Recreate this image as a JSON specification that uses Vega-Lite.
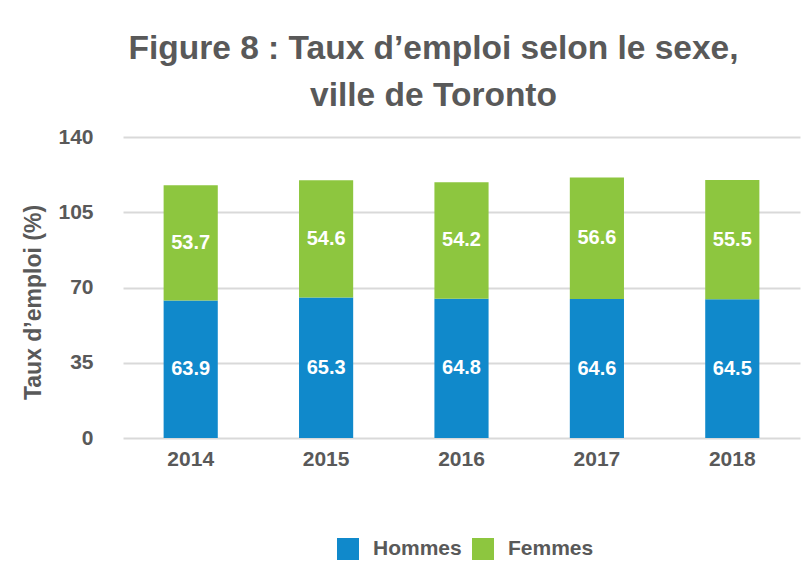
{
  "$schema": "https://vega.github.io/schema/vega-lite/v6.json",
  "width": 677,
  "height": 301,
  "autosize": {"type": "none"},
  "padding": {"left": 123, "top": 137, "right": 8, "bottom": 148},
  "background": "white",
  "title": {
    "text": ["Figure 8 : Taux d’emploi selon le sexe,", "ville de Toronto"],
    "font": "Liberation Sans",
    "fontSize": 33.5,
    "fontWeight": "bold",
    "color": "#595959",
    "lineHeight": 47,
    "anchor": "middle",
    "frame": "group",
    "dx": -28,
    "offset": 13
  },
  "data": {
    "values": [
      {"year": "2014", "sexe": "Hommes", "value": 63.9},
      {"year": "2014", "sexe": "Femmes", "value": 53.7},
      {"year": "2015", "sexe": "Hommes", "value": 65.3},
      {"year": "2015", "sexe": "Femmes", "value": 54.6},
      {"year": "2016", "sexe": "Hommes", "value": 64.8},
      {"year": "2016", "sexe": "Femmes", "value": 54.2},
      {"year": "2017", "sexe": "Hommes", "value": 64.6},
      {"year": "2017", "sexe": "Femmes", "value": 56.6},
      {"year": "2018", "sexe": "Hommes", "value": 64.5},
      {"year": "2018", "sexe": "Femmes", "value": 55.5}
    ]
  },
  "transform": [
    {"stack": "value", "groupby": ["year"], "sort": [{"field": "sexe", "order": "descending"}], "as": ["v0", "v1"]}
  ],
  "encoding": {
    "x": {
      "field": "year",
      "type": "ordinal",
      "scale": {"paddingInner": 0.6, "paddingOuter": 0.3},
      "axis": {
        "title": null,
        "labelAngle": 0,
        "labelFont": "Liberation Sans",
        "labelFontSize": 21,
        "labelFontWeight": "bold",
        "labelColor": "#595959",
        "domain": false,
        "ticks": false,
        "labelPadding": 10
      }
    }
  },
  "layer": [
    {
      "mark": {"type": "bar"},
      "encoding": {
        "y": {
          "field": "v1",
          "type": "quantitative",
          "title": "Taux d’emploi (%)",
          "scale": {"domain": [0, 140], "nice": false},
          "axis": {
            "values": [0, 35, 70, 105, 140],
            "title": "Taux d’emploi (%)",
            "titleFont": "Liberation Sans",
            "titleFontSize": 23,
            "titleFontWeight": "bold",
            "titleColor": "#595959",
            "titleX": -90,
            "titleY": 165,
            "titleAngle": 270,
            "titleAlign": "center",
            "titleBaseline": "middle",
            "labelFont": "Liberation Sans",
            "labelFontSize": 21,
            "labelFontWeight": "bold",
            "labelColor": "#595959",
            "labelPadding": 30,
            "grid": true,
            "gridColor": "#d9d9d9",
            "gridWidth": 2,
            "domain": false,
            "ticks": false
          }
        },
        "y2": {"field": "v0"},
        "color": {
          "field": "sexe",
          "type": "nominal",
          "scale": {"domain": ["Hommes", "Femmes"], "range": ["#1089CB", "#8DC63F"]},
          "legend": {
            "title": null,
            "orient": "none",
            "legendX": 214,
            "legendY": 401,
            "direction": "horizontal",
            "symbolType": "square",
            "symbolSize": 484,
            "symbolStrokeWidth": 0,
            "labelFont": "Liberation Sans",
            "labelFontSize": 21,
            "labelFontWeight": "bold",
            "labelColor": "#595959",
            "labelOffset": 14,
            "columnPadding": 10
          }
        }
      }
    },
    {
      "transform": [
        {"fold": ["v0", "v1"], "as": ["bord", "pos"]},
        {"aggregate": [{"op": "mean", "field": "pos", "as": "milieu"}], "groupby": ["year", "sexe", "value"]}
      ],
      "mark": {"type": "text", "color": "white", "font": "Liberation Sans", "fontSize": 20, "fontWeight": "bold", "baseline": "middle"},
      "encoding": {
        "y": {"field": "milieu", "type": "quantitative", "title": "Taux d’emploi (%)"},
        "text": {"field": "value", "type": "quantitative", "format": ".1f"}
      }
    }
  ],
  "config": {"view": {"stroke": null}}
}
